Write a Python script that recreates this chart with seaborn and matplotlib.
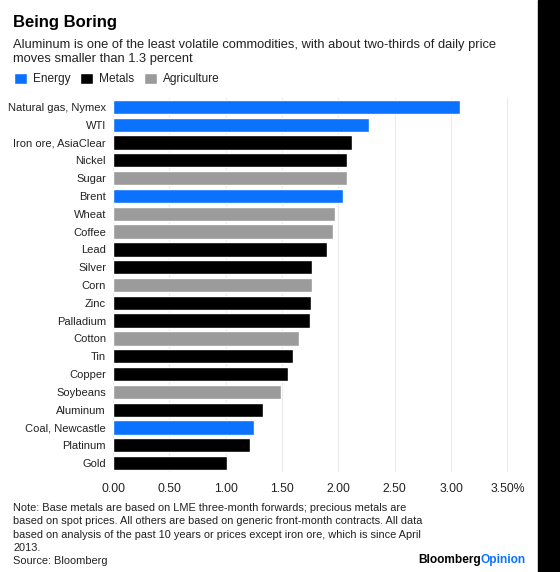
"""
Being Boring: daily price volatility of commodities
Horizontal bar chart, Bloomberg Opinion style
"""

import pandas as pd
import seaborn as sns
import matplotlib.pyplot as plt
from matplotlib.patches import Rectangle

# data
commodities = [
    'Natural gas, Nymex', 'WTI', 'Iron ore, AsiaClear', 'Nickel', 'Sugar',
    'Brent', 'Wheat', 'Coffee', 'Lead', 'Silver', 'Corn', 'Zinc',
    'Palladium', 'Cotton', 'Tin', 'Copper', 'Soybeans', 'Aluminum',
    'Coal, Newcastle', 'Platinum', 'Gold',
]
volatility = [
    3.08, 2.27, 2.12, 2.08, 2.08, 2.04, 1.97, 1.95, 1.90, 1.77, 1.77, 1.76,
    1.75, 1.65, 1.60, 1.55, 1.49, 1.33, 1.25, 1.22, 1.01,
]
sectors = [
    'Energy', 'Energy', 'Metals', 'Metals', 'Agriculture', 'Energy',
    'Agriculture', 'Agriculture', 'Metals', 'Metals', 'Agriculture', 'Metals',
    'Metals', 'Agriculture', 'Metals', 'Metals', 'Agriculture', 'Metals',
    'Energy', 'Metals', 'Metals',
]
sector_order = ['Energy', 'Metals', 'Agriculture']
tick_values = [0, 0.5, 1.0, 1.5, 2.0, 2.5, 3.0, 3.5]
tick_labels = ['0.00', '0.50', '1.00', '1.50', '2.00', '2.50', '3.00', '3.50%']

BLUE = '#0a72ff'
palette = {'Energy': BLUE, 'Metals': '#000000', 'Agriculture': '#9b9b9b'}

df = pd.DataFrame({'commodity': commodities, 'vol': volatility, 'sector': sectors})

sns.set_theme(style='white')
plt.rcParams['font.family'] = ['Liberation Sans', 'DejaVu Sans']
TXT = '#222222'

fig = plt.figure(figsize=(5.6, 5.72), dpi=100)
fig.patch.set_facecolor('white')
ax = fig.add_axes([113 / 560, 1 - 472 / 572, 3.6 * 112.7 / 560, 374 / 572])

sns.barplot(
    data=df, x='vol', y='commodity', hue='sector', hue_order=sector_order,
    palette=palette, dodge=False, width=0.8, saturation=1, ax=ax,
)

ax.set_xlim(0, 3.6)
ax.set_xticks(tick_values)
ax.set_xticklabels(tick_labels)
ax.set_xlabel('')
ax.set_ylabel('')
ax.xaxis.grid(True, color='#ececec', lw=0.9)
ax.set_axisbelow(True)
sns.despine(ax=ax, left=True, bottom=True)
ax.tick_params(axis='both', length=0, labelcolor=TXT)
ax.tick_params(axis='y', pad=5, labelsize=8.0)
ax.tick_params(axis='x', pad=8, labelsize=8.8)

sns.move_legend(
    ax, 'center left', bbox_to_anchor=(14 / 560, 1 - 79 / 572),
    bbox_transform=fig.transFigure, ncol=3, frameon=False, title=None,
    borderaxespad=0, borderpad=0,
    handlelength=1.1, handleheight=1.1, handletextpad=0.5,
    columnspacing=0.8, fontsize=8.6,
)
for t in ax.get_legend().get_texts():
    t.set_color(TXT)

# titles
fig.text(13 / 560, 1 - 22 / 572, 'Being Boring', fontsize=12,
         fontweight='bold', color='black', va='center')
fig.text(13 / 560, 1 - 39 / 572,
         'Aluminum is one of the least volatile commodities, with about two-thirds of daily price\n'
         'moves smaller than 1.3 percent',
         fontsize=9.3, color=TXT, va='top', linespacing=1.2)

# footnote
fig.text(13 / 560, 1 - 503 / 572,
         'Note: Base metals are based on LME three-month forwards; precious metals are\n'
         'based on spot prices. All others are based on generic front-month contracts. All data\n'
         'based on analysis of the past 10 years or prices except iron ore, which is since April\n'
         '2013.\n'
         'Source: Bloomberg',
         fontsize=7.9, color=TXT, va='top', linespacing=1.42)

# branding
op = fig.text(526 / 560, 1 - 560 / 572, 'Opinion', fontsize=8.6,
              fontweight='bold', color=BLUE, ha='right', va='center')
fig.canvas.draw()
bb = op.get_window_extent().transformed(fig.transFigure.inverted())
fig.text(bb.x0, 1 - 560 / 572, 'Bloomberg', fontsize=8.6,
         fontweight='bold', color='black', ha='right', va='center')

# black strip on the right edge
fig.patches.append(Rectangle((538 / 560, 0), 22 / 560, 1,
                             transform=fig.transFigure, color='black', zorder=10))

fig.savefig('out.png', dpi=100)
